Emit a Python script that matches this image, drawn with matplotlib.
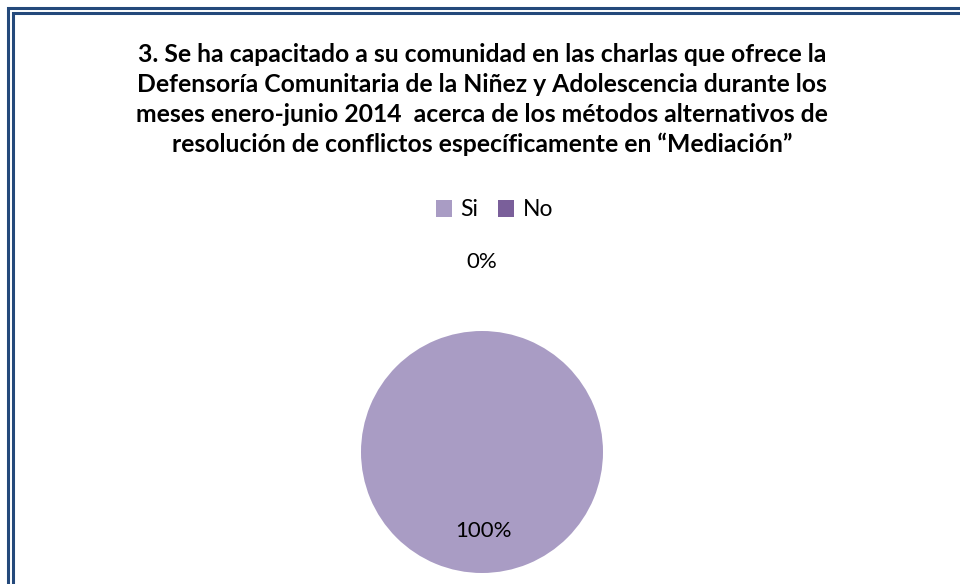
import matplotlib.pyplot as plt
from matplotlib.patches import Rectangle, Patch

categories = ['Si', 'No']
values = [100, 0]
pct_labels = ['100%', '0%']
colors = ['#a99cc4', '#7a5f9a']
title = ('3. Se ha capacitado a su comunidad en las charlas que ofrece la\n'
         'Defensoría Comunitaria de la Niñez y Adolescencia durante los\n'
         'meses enero-junio 2014  acerca de los métodos alternativos de\n'
         'resolución de conflictos específicamente en “Mediación”')

plt.rcParams['font.family'] = ['Lato', 'DejaVu Sans']

fig = plt.figure(figsize=(9.6, 5.84), dpi=100)
W, H = 960, 584

# double border around the chart
for off, lw in [(8, 2.2), (13, 2.2)]:
    fig.add_artist(Rectangle((off / W, -0.1), 2, 1 - off / H + 0.1,
                             transform=fig.transFigure, fill=False,
                             edgecolor='#24497b', linewidth=lw))

fig.text(0.502, 1 - 43 / H, title, ha='center', va='top', fontsize=17.8,
         fontweight='bold', linespacing=1.36, color='#000000')

ax = fig.add_axes([(482 - 121) / W, (584 - 573) / H, 242 / W, 242 / H])
ax.pie(values, colors=colors, startangle=90, counterclock=False,
       wedgeprops=dict(linewidth=0))
ax.set_xlim(-1, 1)
ax.set_ylim(-1, 1)
ax.set_aspect('equal')
ax.axis('off')

# data labels
ax.text(0.01, -0.65, pct_labels[0], ha='center', va='center', fontsize=16)
ax.text(0, 1.57, pct_labels[1], ha='center', va='center', fontsize=16,
        clip_on=False)

handles = [Patch(facecolor=c, edgecolor='none') for c in colors]
fig.legend(handles, categories, loc='center', bbox_to_anchor=(0.515, 1 - 210 / H),
           ncol=2, frameon=False, fontsize=16.5, handlelength=0.7,
           handleheight=0.7, handletextpad=0.35, columnspacing=0.9)

fig.savefig('out.png', dpi=100)
